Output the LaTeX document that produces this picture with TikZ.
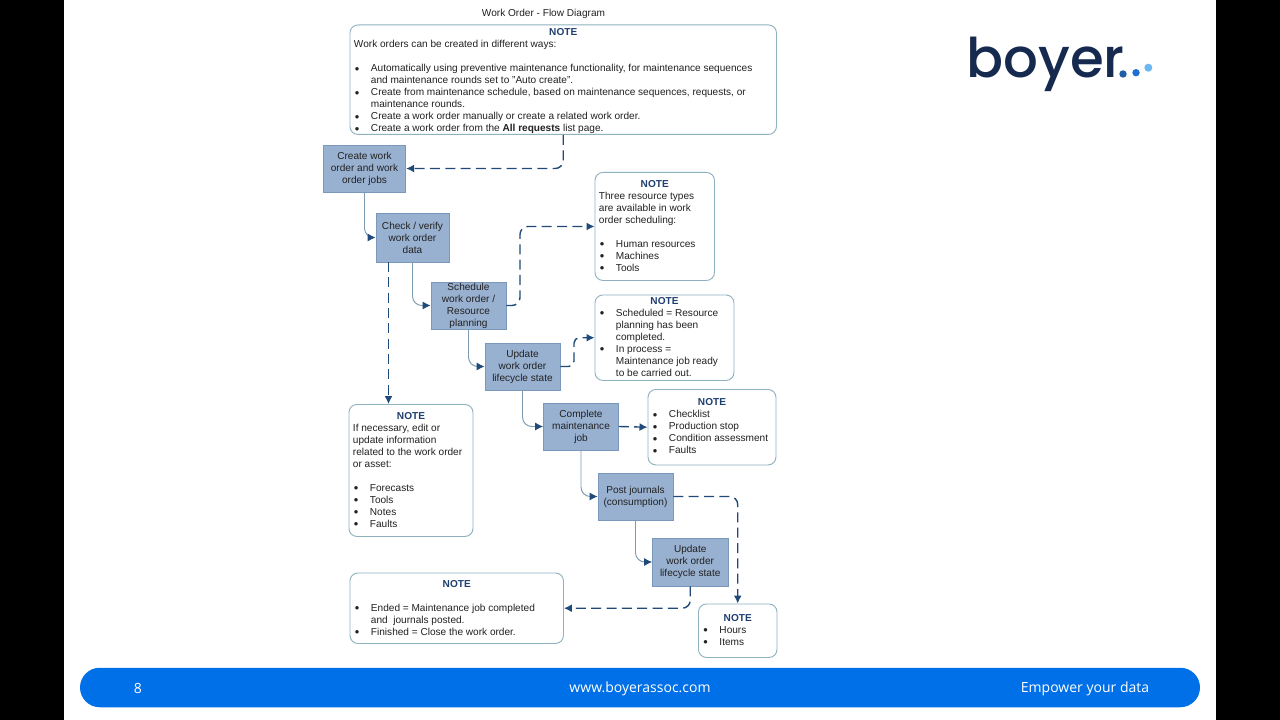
\documentclass[tikz,border=0pt]{standalone}
\usepackage{fontspec}
\setmainfont{Liberation Sans}
\newfontfamily\logofont{Poppins Medium}
\newfontfamily\footfont{Open Sans}
\usetikzlibrary{arrows.meta}
\definecolor{procfill}{HTML}{99B1D0}
\definecolor{procline}{HTML}{7A98BC}
\definecolor{noteline}{HTML}{8FB2BE}
\definecolor{linkdark}{HTML}{1F4A7A}
\definecolor{linksolid}{HTML}{7C9AB0}
\definecolor{notehead}{HTML}{1F3F70}
\definecolor{txt}{HTML}{222222}
\definecolor{pill}{HTML}{0070E8}
\definecolor{logonavy}{HTML}{16294F}
\definecolor{dotone}{HTML}{1F5FA8}
\definecolor{dottwo}{HTML}{1E6FD0}
\definecolor{dotthree}{HTML}{6BB8F0}
\newcommand{\fs}{\fontsize{7.56}{9}\selectfont\color{txt}}
\newcommand{\hd}{{\centering\strut\textbf{\color{notehead}NOTE}\par}}
\newcommand{\blt}[1]{{\let\\\newline\hangindent=12.75pt\hangafter=1\noindent\makebox[12.75pt][l]{\hspace{0.6pt}\raisebox{-1.1pt}{\fontsize{9.6}{9}\selectfont •}}#1\par}}
\newcommand{\bk}{\par\vspace{9pt}}
% name, left, top, width, height, gap above the heading (px), body
\newcommand{\notebox}[7]{%
  \node[notestyle,anchor=north west,minimum width=#4*0.75pt,minimum height=#5*0.75pt] (#1) at (#2,#3)
  {\begin{minipage}[t][\dimexpr#5pt*3/4\relax][t]{\dimexpr#4pt*3/4-6pt\relax}\raggedright\fs\setlength{\parskip}{0pt}\setlength{\parindent}{0pt}\vspace*{\dimexpr#6pt*3/4\relax}\hd #7\end{minipage}};}
\tikzset{
  notestyle/.style={draw=noteline,fill=white,line width=0.7pt,rounded corners=6pt,inner ysep=0pt,inner xsep=3pt},
  proc/.style={draw=procline,fill=procfill,line width=0.6pt,inner sep=0pt,align=center,font=\fs},
  tipdark/.style={-{Latex[length=6pt,width=6pt,color=linkdark]}},
  solidlink/.style={draw=linksolid,line width=0.7pt,rounded corners=7pt,tipdark},
  dashlink/.style={draw=linkdark,line width=1.05pt,rounded corners=6pt,dash pattern=on 7.5pt off 4pt,tipdark},
  foot/.style={text=white,font=\footfont\fontsize{10.5}{12}\selectfont,inner sep=0pt}
}
\begin{document}
\begin{tikzpicture}[x=0.75pt,y=-0.75pt]
\useasboundingbox (0,0) rectangle (1280,720);
\fill[white] (0,0) rectangle (1280,720);
\fill[black] (0,0) rectangle (64,720);
\fill[black] (1216,0) rectangle (1280,720);

\node[font=\fs,inner sep=0pt] (title) at (543.5,13.5) {Work Order - Flow Diagram};

\notebox{noteways}{349.5}{24.5}{426.5}{109.5}{2.2}{Work orders can be created in different ways:\bk
\blt{Automatically using preventive maintenance functionality, for maintenance sequences\\and maintenance rounds set to "Auto create".}
\blt{Create from maintenance schedule, based on maintenance sequences, requests, or\\maintenance rounds.}
\blt{Create a work order manually or create a related work order.}
\blt{Create a work order from the \textbf{All requests} list page.}}

\notebox{noteres}{594.5}{172}{119.5}{108}{6.6}{Three resource types\\are available in work\\order scheduling:\bk
\blt{Human resources}\blt{Machines}\blt{Tools}}

\notebox{notesched}{594.5}{294.5}{139}{85.5}{1}{%
\blt{Scheduled = Resource\\planning has been\\completed.}
\blt{In process =\\Maintenance job ready\\to be carried out.}}

\notebox{notecheck}{647.5}{389}{128}{75.5}{8}{%
\blt{Checklist}\blt{Production stop}\blt{Condition assessment}\blt{Faults}}

\notebox{noteif}{348.5}{404}{124}{132}{6.2}{If necessary, edit or\\update information\\related to the work order\\or asset:\bk
\blt{Forecasts}\blt{Tools}\blt{Notes}\blt{Faults}}

\notebox{noteended}{349.5}{572.5}{213.5}{70.5}{6}{\vspace{9pt}%
\blt{Ended = Maintenance job completed\\and~ journals posted.}
\blt{Finished = Close the work order.}}

\notebox{notehours}{698}{603.5}{78.5}{53.5}{9}{%
\blt{Hours}\blt{Items}}

\node[proc,minimum width=82.5*0.75pt,minimum height=47*0.75pt] (create) at (364.5,168.5) {Create work\\order and work\\order jobs};
\node[proc,minimum width=73*0.75pt,minimum height=49*0.75pt] (check) at (412.5,237.5) {Check / verify\\work order\\data};
\node[proc,minimum width=75*0.75pt,minimum height=47*0.75pt] (schedule) at (468.5,305.5) {Schedule\\work order /\\Resource\\planning};
\node[proc,minimum width=75*0.75pt,minimum height=47*0.75pt] (update) at (522.5,366.5) {Update\\work order\\lifecycle state};
\node[proc,minimum width=75*0.75pt,minimum height=47*0.75pt] (complete) at (581,426.5) {Complete\\maintenance\\job};
\node[proc,minimum width=75*0.75pt,minimum height=47*0.75pt] (post) at (635.5,496.5) {Post journals\\(consumption)};
\node[proc,minimum width=75.5*0.75pt,minimum height=48*0.75pt] (updatetwo) at (690.25,562) {Update\\work order\\lifecycle state};

\coordinate (checkfoot) at (388.5,262);
\coordinate (ifhead) at (388.5,404);
\coordinate (resbend) at (520,265);
\coordinate (schedbend) at (574,350);

\draw[solidlink] (create.south) |- (check.west);
\draw[solidlink] (check.south) |- (schedule.west);
\draw[solidlink] (schedule.south) |- (update.west);
\draw[solidlink] (update.south) |- (complete.west);
\draw[solidlink] (complete.south) |- (post.west);
\draw[solidlink] (post.south) |- (updatetwo.west);

\draw[dashlink] (noteways.south) |- (create.east);
\draw[dashlink] (checkfoot) -- (ifhead);
\draw[dashlink] (schedule.east) -| (resbend) |- (noteres.west);
\draw[dashlink,rounded corners=4pt] (update.east) -| (schedbend) |- (notesched.west);
\draw[dashlink] (complete.east) -- (notecheck.west);
\draw[dashlink] (post.east) -| (notehours.north);
\draw[dashlink] (updatetwo.south) |- (noteended.east);

\node[fill=pill,minimum width=1120*0.75pt,minimum height=39.5*0.75pt,rounded corners=14.8pt,inner sep=0pt] (footer) at (640,687.5) {};
\node[foot] (pagenum) at (138,688.5) {8};
\node[foot] (site) at (640,688.5) {www.boyerassoc.com};
\node[foot] (motto) at (1085,688.5) {Empower your data};

\node[anchor=base west,inner sep=0pt,text=logonavy,font=\logofont\fontsize{41}{41}\selectfont] (logo) at (966,78) {boyer};
\fill[dotone] (1123,74) circle (3.7);
\fill[dottwo] (1136,72.7) circle (3.7);
\fill[dotthree] (1148.3,67.7) circle (4);
\end{tikzpicture}
\end{document}
